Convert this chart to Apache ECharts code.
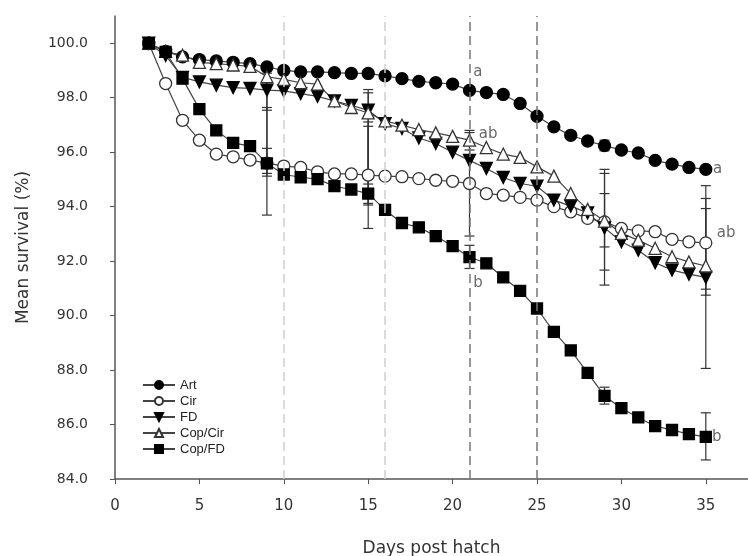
<!DOCTYPE html>
<html><head><meta charset="utf-8">
<script src="https://cdn.jsdelivr.net/npm/echarts@6/dist/echarts.min.js"></script>
<style>html,body{margin:0;padding:0;background:#fff}#c{width:748px;height:556px}</style>
</head><body><div id="c"></div>
<script>
const days = [2,3,4,5,6,7,8,9,10,11,12,13,14,15,16,17,18,19,20,21,22,23,24,25,26,27,28,29,30,31,32,33,34,35];
const art = [100.0,99.7,99.5,99.4,99.35,99.3,99.25,99.13,99.0,98.95,98.95,98.92,98.89,98.89,98.8,98.7,98.6,98.55,98.5,98.27,98.19,98.12,97.79,97.32,96.93,96.62,96.41,96.24,96.08,95.97,95.7,95.56,95.44,95.37];
const cir = [100.0,98.52,97.17,96.44,95.93,95.83,95.71,95.6,95.49,95.44,95.28,95.2,95.2,95.16,95.12,95.1,95.03,94.97,94.93,94.85,94.48,94.42,94.34,94.24,94.0,93.81,93.57,93.44,93.2,93.11,93.08,92.8,92.71,92.67];
const fd = [100.0,99.55,98.75,98.58,98.46,98.37,98.34,98.28,98.25,98.15,98.05,97.88,97.72,97.54,97.05,96.87,96.52,96.32,96.0,95.7,95.4,95.07,94.85,94.75,94.24,94.02,93.77,93.22,92.71,92.4,91.94,91.67,91.52,91.4];
const copCir = [100.0,99.7,99.56,99.3,99.25,99.2,99.15,98.77,98.67,98.55,98.5,97.88,97.64,97.44,97.15,96.99,96.83,96.71,96.58,96.44,96.17,95.93,95.81,95.46,95.12,94.48,93.9,93.47,93.02,92.77,92.47,92.16,91.97,91.82];
const copFd = [100.0,99.68,98.7,97.58,96.8,96.34,96.22,95.59,95.18,95.08,95.01,94.75,94.63,94.48,93.88,93.4,93.24,92.92,92.55,92.15,91.92,91.4,90.91,90.26,89.4,88.72,87.9,87.05,86.6,86.26,85.94,85.8,85.65,85.55];

// error bars: [day, low, high]
const errorBars = [
  [9,93.69,97.64],[9,95.12,96.14],[9,95.22,99.19],[9,97.54,98.9],
  [15,93.2,98.3],[15,94.12,98.18],[15,94.83,97.11],[15,94.06,96.95],
  [21,92.92,96.8],[21,96.08,96.72],[21,91.73,92.58],
  [29,91.12,95.37],[29,91.67,95.22],[29,92.52,94.48],[29,86.75,87.37],[29,96.05,96.44],
  [35,88.06,94.77],[35,90.97,94.3],[35,90.75,93.93],[35,84.7,86.43]
];
const lightLines = [10,16];
const darkLines = [21,25];
const annX = [21.5,22.1,21.5,35.7,36.2,35.65];
const annY = [98.94,96.66,91.19,95.38,93.03,85.54];
const annText = ['a','ab','b','a','ab','b'];
const yTicks = [84,86,88,90,92,94,96,98,100];
const xTicks = [0,5,10,15,20,25,30,35];

const pair = arr => days.map((d,i)=>[d,arr[i]]);
const lineColor = '#444';
function mk(name, arr, symbol, filled, rot){
  return {
    name, type:'line', data: pair(arr), symbol, symbolSize: symbol==='rect'?11:12,
    symbolRotate: rot||0,
    lineStyle:{color:lineColor,width:1.2},
    itemStyle:{color: filled?'#000':'#fff', borderColor: filled?'#000':'#333', borderWidth:1.3},
    z: 3, animation:false
  };
}
const chart = echarts.init(document.getElementById('c'));
const series = [
  {
    name:'err', type:'custom', data: errorBars, z:2, animation:false, silent:true,
    encode:{x:0,y:[1,2]},
    renderItem(params, api){
      const x = api.value(0);
      const lo = api.coord([x, api.value(1)]);
      const hi = api.coord([x, api.value(2)]);
      const w = 5;
      const st = {stroke:'#333', lineWidth:1.2};
      return {type:'group', children:[
        {type:'line', shape:{x1:lo[0],y1:lo[1],x2:hi[0],y2:hi[1]}, style:st},
        {type:'line', shape:{x1:lo[0]-w,y1:lo[1],x2:lo[0]+w,y2:lo[1]}, style:st},
        {type:'line', shape:{x1:hi[0]-w,y1:hi[1],x2:hi[0]+w,y2:hi[1]}, style:st}
      ]};
    },
    markLine:{
      silent:true, symbol:'none', animation:false, label:{show:false},
      data:[
        ...lightLines.map(v=>({xAxis:v, lineStyle:{color:'#d0d0d0', type:[9,5], width:1.5}})),
        ...darkLines.map(v=>({xAxis:v, lineStyle:{color:'#777', type:[9,5], width:1.5}}))
      ]
    }
  },
  mk('Art', art, 'circle', true),
  mk('Cir', cir, 'circle', false),
  mk('FD', fd, 'triangle', true, 180),
  mk('Cop/Cir', copCir, 'triangle', false),
  mk('Cop/FD', copFd, 'rect', true),
  {
    name:'ann', type:'scatter', symbol:'circle', symbolSize:1, silent:true, animation:false, z:5,
    itemStyle:{color:'rgba(0,0,0,0)'},
    data: annX.map((x,i)=>({value:[x,annY[i]], label:{formatter: annText[i]}})),
    label:{show:true, position:'inside', color:'#444', fontSize:15, fontFamily:'DejaVu Sans'}
  }
];
chart.setOption({
  animation:false,
  backgroundColor:'#fff',
  grid:{left:115, top:16, width:633, bottom:77, containLabel:false, outerBoundsMode:'none'},
  legend:{
    data:['Art','Cir','FD','Cop/Cir','Cop/FD'],
    orient:'vertical', left:137, top:373, itemWidth:32, itemHeight:10, itemGap:2,
    textStyle:{fontSize:13, lineHeight:14, color:'#222', fontFamily:'Liberation Sans'}
  },
  xAxis:{
    type:'value', min:0, max:37.5,
    name:'Days post hatch', nameLocation:'middle', nameGap:61,
    nameTextStyle:{fontSize:17, color:'#333', fontFamily:'DejaVu Sans'},
    axisLine:{lineStyle:{color:'#555', width:1.5}},
    axisTick:{show:true, customValues:xTicks, length:5, lineStyle:{color:'#555'}},
    axisLabel:{customValues:xTicks, margin:20, fontSize:15, color:'#333', fontFamily:'DejaVu Sans'},
    splitLine:{show:false}
  },
  yAxis:{
    type:'value', min:84, max:101,
    name:'Mean survival (%)', nameLocation:'middle', nameGap:83, nameRotate:90,
    nameTextStyle:{fontSize:17, color:'#333', fontFamily:'DejaVu Sans'},
    axisLine:{show:true, lineStyle:{color:'#555', width:1.5}},
    axisTick:{show:true, customValues:yTicks, length:5, lineStyle:{color:'#555'}},
    axisLabel:{customValues:yTicks, margin:27, fontSize:14, color:'#333', fontFamily:'DejaVu Sans', formatter:v=>v.toFixed(1)},
    splitLine:{show:false}
  },
  series
});
</script></body></html>
